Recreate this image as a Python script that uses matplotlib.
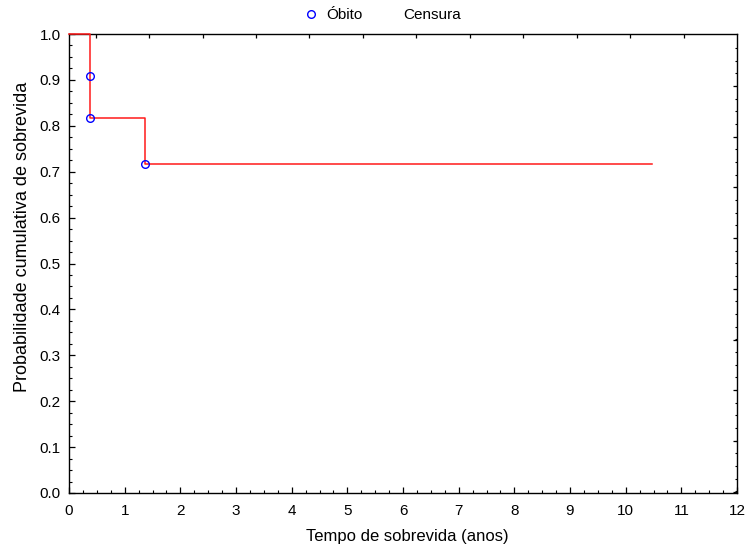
import matplotlib
matplotlib.use("Agg")
import matplotlib.pyplot as plt
from matplotlib.lines import Line2D
from matplotlib.ticker import MultipleLocator, FixedLocator

plt.rcParams['font.family'] = ['Liberation Sans', 'DejaVu Sans']
plt.rcParams['font.size'] = 11

# Kaplan-Meier estimate
step_times = [0.0, 0.377, 1.365]          # times where the curve changes level
step_levels = [1.0, 0.818, 0.716]         # survival after each change
end_time = 10.47                          # last follow-up
death_times = [0.377, 0.377, 1.365]
death_surv = [0.909, 0.818, 0.716]

x_ticks = list(range(0, 13))
y_ticks = [round(0.1 * i, 1) for i in range(11)]

fig = plt.figure(figsize=(7.45, 5.51), dpi=100)
ax = fig.add_axes([69 / 745, 1 - 493 / 551, (737 - 69) / 745, (493 - 34) / 551])

xs = step_times + [end_time]
ys = step_levels + [step_levels[-1]]
ax.step(xs, ys, where='post', color='#ff1a1a', lw=1.1, clip_on=False, zorder=3)
ax.plot(death_times, death_surv, 'o', mfc='none', mec='#0000ff', ms=5.5,
        mew=1.0, clip_on=False, zorder=4)

ax.set_xlim(0, 12)
ax.set_ylim(0, 1)
ax.set_xticks(x_ticks)
ax.set_yticks(y_ticks)
ax.set_yticklabels([f"{v:.1f}" for v in y_ticks])
ax.xaxis.set_minor_locator(MultipleLocator(0.25))
ax.yaxis.set_minor_locator(MultipleLocator(0.025))
ax.tick_params(which='major', direction='in', length=4, width=0.9)
ax.tick_params(axis='x', which='major', pad=8)
ax.tick_params(axis='y', which='major', pad=6)
ax.tick_params(which='minor', direction='in', length=2, width=0.8)
for s in ax.spines.values():
    s.set_linewidth(1.0)

# tick marks on the opposite frame edges
top = ax.secondary_xaxis('top')
top.xaxis.set_major_locator(FixedLocator([0.48 + 0.96 * k for k in range(12)]))
top.xaxis.set_minor_locator(FixedLocator([]))
top.tick_params(which='major', direction='in', length=3, width=0.9, labeltop=False)
top.spines['top'].set_visible(False)

right = ax.secondary_yaxis('right')
rmaj = [0.8867 - 0.1105 * k for k in range(9)]
rmin = [0.9972 - 0.0276 * j for j in range(1, 40) if 0 < 0.9972 - 0.0276 * j < 1]
right.yaxis.set_major_locator(FixedLocator(rmaj))
right.yaxis.set_minor_locator(FixedLocator(rmin))
right.tick_params(which='major', direction='in', length=3, width=0.9, labelright=False)
right.tick_params(which='minor', direction='in', length=1.5, width=0.8)
right.spines['right'].set_visible(False)

ax.set_xlabel("Tempo de sobrevida (anos)", fontsize=12, labelpad=10)
ax.xaxis.set_label_coords(0.506, -0.079)
ax.set_ylabel("Probabilidade cumulativa de sobrevida", fontsize=13, labelpad=6)
ax.yaxis.label.set_y(0.558)

handles = [
    Line2D([], [], ls='none', marker='o', mfc='none', mec='#0000ff', ms=5.5, mew=1.0),
    Line2D([], [], ls='none', marker='+', color='white', ms=5.5),
]
fig.legend(handles, ["Óbito", "Censura"], loc='center', bbox_to_anchor=(0.512, 1 - 15 / 551),
           ncol=2, frameon=False, handletextpad=0.4, columnspacing=1.1, handlelength=1.2)

fig.savefig("out.png", dpi=100)
